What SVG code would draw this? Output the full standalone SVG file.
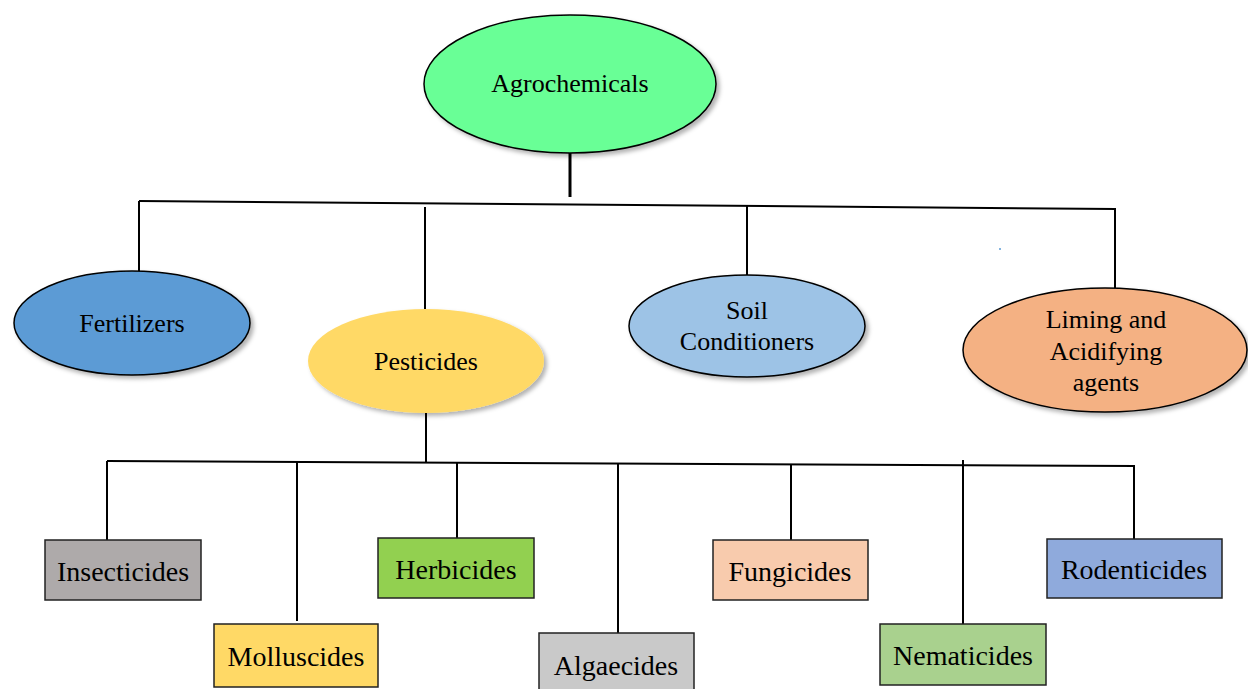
<svg xmlns="http://www.w3.org/2000/svg" width="1248" height="689" viewBox="0 0 1248 689">
<style>
.el{stroke:#000;stroke-width:1.5;filter:url(#sh)}
.bx{stroke:#222;stroke-width:1.5}
.t{font-family:"Liberation Serif","Times New Roman",serif;font-size:26px;fill:#000;text-anchor:middle}
.tb{font-family:"Liberation Serif","Times New Roman",serif;font-size:28px;fill:#000;text-anchor:middle}
.ln{stroke:#000;stroke-width:2;fill:none}
</style>
<defs>
<filter id="sh" x="-10%" y="-10%" width="125%" height="130%">
<feDropShadow dx="3" dy="3" stdDeviation="2" flood-color="#000" flood-opacity="0.3"/>
</filter>
</defs>
<rect width="1248" height="689" fill="#fff"/>
<g id="connectors">
<line class="ln" x1="570" y1="153" x2="570" y2="197" style="stroke-width:3"/>
<line class="ln" x1="139" y1="201" x2="1116" y2="209"/>
<line class="ln" x1="139" y1="201" x2="139" y2="271"/>
<line class="ln" x1="425" y1="207" x2="425" y2="309"/>
<line class="ln" x1="747" y1="206" x2="747" y2="275"/>
<line class="ln" x1="1115" y1="209" x2="1115" y2="288"/>
<line class="ln" x1="426" y1="413" x2="426" y2="462"/>
<line class="ln" x1="107" y1="461" x2="1135" y2="466"/>
<line class="ln" x1="107" y1="461" x2="107" y2="540"/>
<line class="ln" x1="297" y1="462" x2="297" y2="621"/>
<line class="ln" x1="457" y1="463" x2="457" y2="538"/>
<line class="ln" x1="618" y1="463" x2="618" y2="633"/>
<line class="ln" x1="791" y1="465" x2="791" y2="540"/>
<line class="ln" x1="963" y1="460" x2="963" y2="624"/>
<line class="ln" x1="1134" y1="466" x2="1134" y2="539"/>
</g>
<circle cx="1000" cy="249" r="1" fill="#5b9bd5"/>
<g id="agrochemicals">
<ellipse class="el" cx="570" cy="84" rx="146" ry="69" fill="#69ff96"/>
<text class="t" x="570" y="92">Agrochemicals</text>
</g>
<g id="fertilizers">
<ellipse class="el" cx="132" cy="323" rx="118" ry="52" fill="#5b9bd5"/>
<text class="t" x="132" y="332">Fertilizers</text>
</g>
<g id="pesticides">
<ellipse cx="426" cy="361" rx="118" ry="52" fill="#ffd966" filter="url(#sh)"/>
<text class="t" x="426" y="370">Pesticides</text>
</g>
<g id="soil-conditioners">
<ellipse class="el" cx="747" cy="326" rx="118" ry="51" fill="#9dc3e6"/>
<text class="t" x="747" y="319">Soil</text>
<text class="t" x="747" y="350">Conditioners</text>
</g>
<g id="liming">
<ellipse class="el" cx="1105" cy="350" rx="142" ry="62" fill="#f4b183"/>
<text class="t" x="1106" y="328">Liming and</text>
<text class="t" x="1106" y="360">Acidifying</text>
<text class="t" x="1106" y="391">agents</text>
</g>
<g id="insecticides">
<rect class="bx" x="45" y="540" width="156" height="60" fill="#aeaaaa"/>
<text class="tb" x="123" y="581">Insecticides</text>
</g>
<g id="molluscides">
<rect class="bx" x="214" y="624" width="164" height="63" fill="#ffd966"/>
<text class="tb" x="296" y="666">Molluscides</text>
</g>
<g id="herbicides">
<rect class="bx" x="378" y="538" width="156" height="60" fill="#92d050"/>
<text class="tb" x="456" y="579">Herbicides</text>
</g>
<g id="algaecides">
<rect class="bx" x="539" y="633" width="155" height="58" fill="#c9c9c9"/>
<text class="tb" x="616" y="675">Algaecides</text>
</g>
<g id="fungicides">
<rect class="bx" x="713" y="540" width="155" height="60" fill="#f8cbad"/>
<text class="tb" x="790" y="581">Fungicides</text>
</g>
<g id="nematicides">
<rect class="bx" x="880" y="624" width="166" height="61" fill="#a9d18e"/>
<text class="tb" x="963" y="665">Nematicides</text>
</g>
<g id="rodenticides">
<rect class="bx" x="1047" y="539" width="175" height="59" fill="#8faadc"/>
<text class="tb" x="1134" y="579">Rodenticides</text>
</g>
</svg>
